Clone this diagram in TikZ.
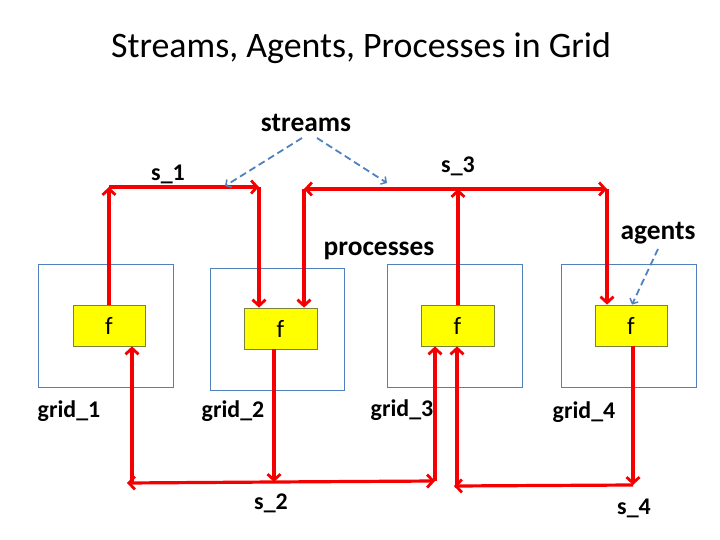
\documentclass[tikz,border=0pt]{standalone}
\usepackage{fontspec}
\setmainfont{Carlito}
\usetikzlibrary{arrows.meta}
\definecolor{gridblue}{RGB}{79,129,189}
\definecolor{sred}{RGB}{245,0,0}
\definecolor{fyel}{RGB}{255,255,0}
\definecolor{fedge}{RGB}{120,130,60}
\tikzset{
  gridbox/.style={draw=gridblue, line width=0.8bp, minimum width=135bp, minimum height=123bp, inner sep=0pt},
  fbox/.style={draw=fedge, fill=fyel, line width=0.8bp, minimum width=72bp, minimum height=41bp, inner sep=0pt, font=\fontsize{25}{30}\selectfont},
  sarr/.style={draw=sred, line width=3.2bp, -{Straight Barb[length=6bp,width=13bp,line width=2.8bp]}},
  sarr2/.style={draw=sred, line width=3.2bp, {Straight Barb[length=6bp,width=13bp,line width=2.8bp]}-{Straight Barb[length=6bp,width=13bp,line width=2.8bp]}},
  darr/.style={draw=gridblue, line width=1.8bp, dash pattern=on 7bp off 4bp, -{Straight Barb[length=4bp,width=9bp,line width=1.5bp]}},
  lab/.style={font=\bfseries\fontsize{24}{28}\selectfont, inner sep=0pt},
  biglab/.style={font=\bfseries\fontsize{27.5}{32}\selectfont, inner sep=0pt}
}
\begin{document}
\begin{tikzpicture}[x=1bp,y=-1bp]
\useasboundingbox (0,0) rectangle (720,540);
\node[font=\fontsize{36}{42}\selectfont, inner sep=0pt] (title) at (361,48) {Streams, Agents, Processes in Grid};

\node[gridbox] (g1) at (105.5,325.5) {};
\node[gridbox, minimum width=134bp, minimum height=122bp] (g2) at (277,329) {};
\node[gridbox] (g3) at (454.5,325.5) {};
\node[gridbox] (g4) at (628.5,325.5) {};

\node[fbox] (f1) at (109,325.5) {f};
\node[fbox, minimum width=73bp] (f2) at (280.5,328.5) {f};
\node[fbox, minimum width=73bp] (f3) at (457.5,325.5) {f};
\node[fbox] (f4) at (631,325.5) {f};

\node[lab] (gl1) at (69,411) {grid\_1};
\node[lab] (gl2) at (233,411) {grid\_2};
\node[lab] (gl3) at (402,410) {grid\_3};
\node[lab] (gl4) at (584,412) {grid\_4};

\node[lab] (s1) at (168,174) {s\_1};
\node[lab] (s3) at (458,166) {s\_3};
\node[lab] (s2) at (271,503) {s\_2};
\node[lab] (s4) at (634,508) {s\_4};

\node[biglab] (streams) at (306,123) {streams};
\node[biglab] (proc) at (379,251) {processes};
\node[biglab] (agents) at (658,233) {agents};

% s_1
\coordinate (c1a) at (109,187);
\coordinate (c1b) at (259,187);
\draw[sarr] (f1.north) -- (c1a);
\draw[sarr] (c1a) -- (c1b);
\draw[sarr] (c1b) -- (c1b |- f2.north);

% s_3
\coordinate (c3a) at (304,189);
\coordinate (c3b) at (458,189);
\coordinate (c3c) at (607,189);
\draw[sarr] (f3.north -| c3b) -- (c3b);
\draw[sarr2] (c3a) -- (c3c);
\draw[sarr] (c3a) -- (c3a |- f2.north);
\draw[sarr] (c3c) -- (c3c |- f4.north);

% s_2
\coordinate (c2a) at (274,482);
\coordinate (c2l) at (127,483);
\coordinate (c2v) at (132,484);
\coordinate (c2r) at (435,481);
\draw[sarr] (f2.south -| c2a) -- (c2a);
\draw[sarr] (c2a) -- (c2l);
\draw[sarr] (c2v) -- (c2v |- f1.south);
\draw[sarr] (c2a) -- (c2r);
\draw[sarr] (c2r) -- (c2r |- f3.south);

% s_4
\coordinate (c4a) at (633,485);
\coordinate (c4l) at (454,486);
\coordinate (c4v) at (457,488);
\draw[sarr] (f4.south -| c4a) -- (c4a);
\draw[sarr] (c4a) -- (c4l);
\draw[sarr] (c4v) -- (c4v |- f3.south);

% dashed pointers
\coordinate (d1) at (225,186);
\coordinate (d2) at (387,183);
\coordinate (dsl) at (302,138);
\coordinate (dsr) at (317,138);
\coordinate (da) at (658,249);
\draw[darr] (dsl) -- (d1);
\draw[darr] (dsr) -- (d2);
\draw[darr] (da) -- (f4.north -| 632,0);
\end{tikzpicture}
\end{document}
